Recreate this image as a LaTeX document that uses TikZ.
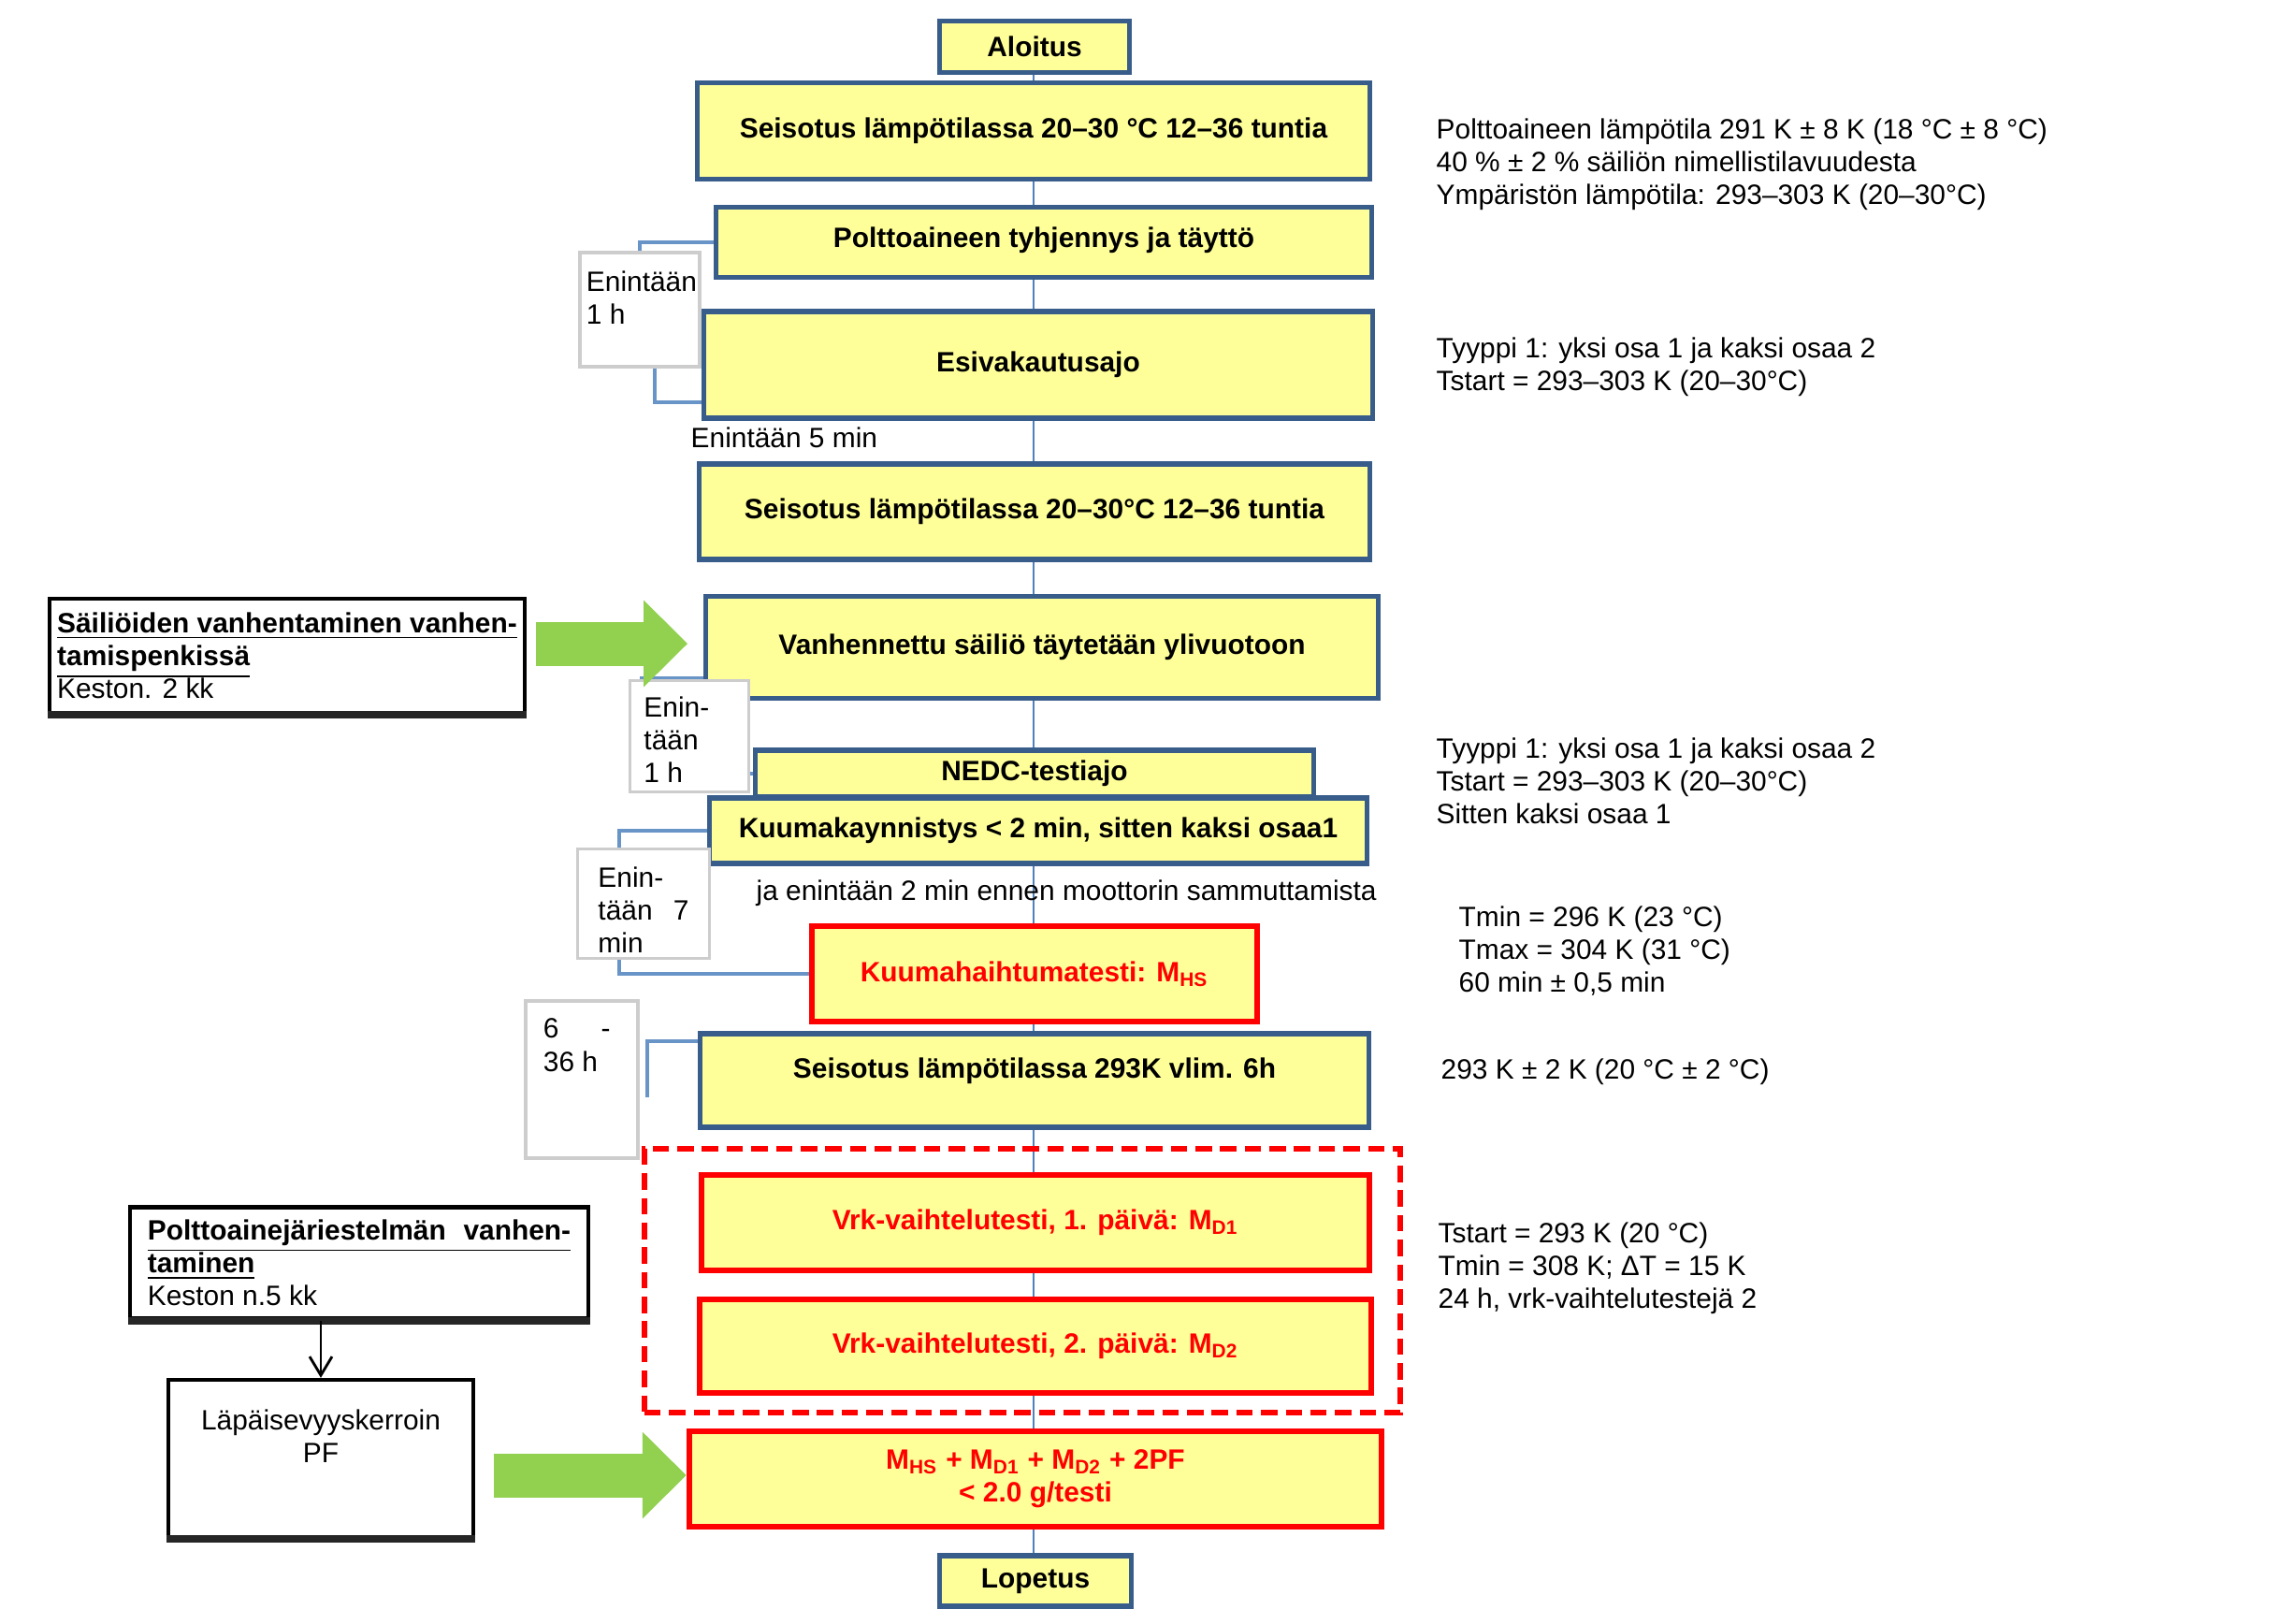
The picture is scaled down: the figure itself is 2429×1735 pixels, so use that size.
\documentclass[tikz,border=0pt]{standalone}
\usepackage{fontspec}
\setmainfont{Liberation Sans}
\usepackage{xcolor}
\usetikzlibrary{arrows.meta, positioning, backgrounds, calc}

\definecolor{boxyellow}{RGB}{255,255,153}
\definecolor{boxblue}{RGB}{56,93,138}
\definecolor{linkblue}{RGB}{79,129,189}
\definecolor{arrowgreen}{RGB}{146,208,80}
\definecolor{notegray}{RGB}{205,205,205}

\newcommand{\sidetext}[3]{\begin{minipage}[t][#2][t]{#1}\raggedright #3\end{minipage}}

\begin{document}
\begin{tikzpicture}[x=0.01cm, y=-0.01cm, every node/.style={font=\fontsize{8.5}{10}\selectfont}]
    \tikzset{
        block/.style={rectangle, draw=boxblue, line width=1.5pt, fill=boxyellow, inner sep=0pt, align=center, font=\fontsize{8.5}{10}\selectfont\bfseries},
        redblock/.style={block, draw=red, line width=1.7pt, text=red},
        sidebox/.style={rectangle, draw=notegray, line width=0.9pt, fill=white},
        source/.style={rectangle, draw=black, line width=1.2pt, fill=white, inner sep=0pt},
        note/.style={anchor=north west, align=left, inner sep=0pt},
        line/.style={draw=linkblue, line width=0.8pt},
        bracket/.style={draw=linkblue!85!white, line width=1.1pt},
        bigarrow/.style={draw=arrowgreen, line width=0.47cm, -{Triangle[width=0.9cm, length=0.47cm]}}
    }
    \useasboundingbox (0,0) rectangle (2429,1735);

    % main column
    \node (Aloitus) [block, minimum width=2.03cm, minimum height=0.55cm] at (1106,50) {Aloitus};
    \node (Seisotus1) [block, minimum width=7.18cm, minimum height=1.03cm] at (1105,140) {Seisotus lämpötilassa 20–30 °C 12–36 tuntia};
    \node (Tyhjennys) [block, minimum width=7.01cm, minimum height=0.75cm, text depth=0.1cm] at (1116,259) {Polttoaineen tyhjennys ja täyttö};
    \node (Esivakautus) [block, minimum width=7.15cm, minimum height=1.14cm] at (1110,390) {Esivakautusajo};
    \node (Seisotus2) [block, minimum width=7.17cm, minimum height=1.02cm] at (1106,547) {Seisotus lämpötilassa 20–30°C 12–36 tuntia};
    \node (Vanhennettu) [block, minimum width=7.18cm, minimum height=1.09cm] at (1114,692) {Vanhennettu säiliö täytetään ylivuotoon};
    \node (NEDC) [block, minimum width=5.97cm, minimum height=0.50cm] at (1106,827) {NEDC-testiajo};
    \node (Kuumakaynnistys) [block, minimum width=7.03cm, minimum height=0.70cm] at (1110,888) {Kuumakaynnistys < 2 min, sitten kaksi osaa1};
    \node (Kuumahaihtuma) [redblock, minimum width=4.76cm, minimum height=1.02cm] at (1106,1041) {Kuumahaihtumatesti: M\textsubscript{HS}};
    \node (Seisotus3) [block, minimum width=7.15cm, minimum height=1.00cm, text depth=0.27cm] at (1106,1155) {Seisotus lämpötilassa 293K vlim. 6h};
    \node (Vrk1) [redblock, minimum width=7.14cm, minimum height=1.02cm] at (1107,1307) {Vrk-vaihtelutesti, 1. päivä: M\textsubscript{D1}};
    \node (Vrk2) [redblock, minimum width=7.17cm, minimum height=1.00cm] at (1107,1439) {Vrk-vaihtelutesti, 2. päivä: M\textsubscript{D2}};
    \node (Summa) [redblock, minimum width=7.40cm, minimum height=1.02cm] at (1107,1581) {M\textsubscript{HS} + M\textsubscript{D1} + M\textsubscript{D2} + 2PF\\< 2.0 g/testi};
    \node (Lopetus) [block, minimum width=2.05cm, minimum height=0.54cm] at (1107,1690) {Lopetus};
    \node (Paivat) [draw=red, line width=1.6pt, dash pattern=on 5pt off 2.5pt, minimum width=8.08cm, minimum height=2.82cm] at (1093,1369) {};

    % time limits
    \node (Enint1) [sidebox, inner xsep=0.07cm, inner ysep=0.2cm] at (684,331) {\sidetext{1.14cm}{0.82cm}{Enintään\\1 h}};
    \node (Enint2) [sidebox, inner xsep=0.15cm, inner ysep=0.17cm] at (737,787) {\sidetext{0.97cm}{0.85cm}{Enin-\\tään\\1 h}};
    \node (Enint7) [sidebox, inner xsep=0.22cm, inner ysep=0.19cm] at (688,966) {\sidetext{0.97cm}{0.79cm}{Enin-\\tään\hfill 7\\min}};
    \node (Tunnit) [sidebox, inner xsep=0.19cm, inner ysep=0.19cm] at (622,1154) {\sidetext{0.82cm}{1.30cm}{6\hspace{0.45cm}-\\36 h}};
    \node (Viive5) [anchor=west, inner sep=0pt] at (738,468) {Enintään 5 min};
    \node (Viive2) [anchor=west, inner sep=0pt] at (808,955) {ja enintään 2 min ennen moottorin sammuttamista};

    % ageing inputs
    \node (Sailiot) [source, minimum width=5.08cm, minimum height=1.22cm, align=left] at (307,701) {\textbf{\underline{Säiliöiden vanhentaminen vanhen-}}\\\textbf{\underline{tamispenkissä}}\\Keston. 2 kk};
    \node (Jarjestelma) [source, minimum width=4.90cm, minimum height=1.19cm, align=left] at (384,1350) {\textbf{\underline{\makebox[4.52cm][s]{Polttoainejäriestelmän\hfill vanhen-}}}\\\textbf{\underline{taminen}}\\Keston n.5 kk};
    \node (PF) [source, inner xsep=0.13cm, inner ysep=0.32cm] at (343,1559) {\begin{minipage}[t][1.04cm][t]{3.0cm}\centering Läpäisevyyskerroin\\PF\end{minipage}};
    \foreach \n in {Sailiot, Jarjestelma, PF}
        \draw [line width=2.2pt, black!85] (\n.south west) -- (\n.south east);

    % conditions
    \node (Info1) [note] at (1535,126) {Polttoaineen lämpötila 291 K ± 8 K (18 °C ± 8 °C)\\40 \% ± 2 \% säiliön nimellistilavuudesta\\Ympäristön lämpötila: 293–303 K (20–30°C)};
    \node (Info2) [note] at (1535,360) {Tyyppi 1: yksi osa 1 ja kaksi osaa 2\\Tstart = 293–303 K (20–30°C)};
    \node (Info3) [note] at (1535,788) {Tyyppi 1: yksi osa 1 ja kaksi osaa 2\\Tstart = 293–303 K (20–30°C)\\Sitten kaksi osaa 1};
    \node (Info4) [note] at (1559,968) {Tmin = 296 K (23 °C)\\Tmax = 304 K (31 °C)\\60 min ± 0,5 min};
    \node (Info5) [note] at (1540,1131) {293 K ± 2 K (20 °C ± 2 °C)};
    \node (Info6) [note] at (1537,1306) {Tstart = 293 K (20 °C)\\Tmin = 308 K; ΔT = 15 K\\24 h, vrk-vaihtelutestejä 2};

    \begin{scope}[on background layer]
        \coordinate (Spine) at (1105,0);
        \foreach \a/\b in {Aloitus/Seisotus1, Seisotus1/Tyhjennys, Tyhjennys/Esivakautus, Esivakautus/Seisotus2, Seisotus2/Vanhennettu, Vanhennettu/NEDC, Kuumakaynnistys/Kuumahaihtuma, Kuumahaihtuma/Seisotus3, Seisotus3/Vrk1, Vrk1/Vrk2, Vrk2/Summa, Summa/Lopetus}
            \path [line] (Spine |- \a.south) -- (Spine |- \b.north);

        % brackets round the time limits
        \path [bracket] (Tyhjennys.west) -| (Enint1.north);
        \path [bracket] ([xshift=0.16cm]Enint1.south) |- ([yshift=-0.4cm]Esivakautus.west);
        \path [bracket] ([yshift=-0.33cm]Vanhennettu.west) -| ([xshift=-0.51cm]Enint2.center) |- (NEDC.west);
        \path [bracket] (Kuumakaynnistys.west) -| ([xshift=-0.26cm]Enint7.center) |- (Kuumahaihtuma.west);
        \path [bracket] ([yshift=0.42cm]Seisotus3.west) -| ([xshift=0.08cm, yshift=-0.19cm]Tunnit.east);
    \end{scope}

    % inputs
    \path [bigarrow] ($(Sailiot.east |- Vanhennettu.west)+(10,-4)$) -- ($(Vanhennettu.west)+(-17,-4)$);
    \path [bigarrow] ($(PF.east |- Summa.west)+(20,-4)$) -- ($(Summa.west)+(0,-4)$);
    \draw [line width=0.8pt, -{Straight Barb[length=0.2cm, width=0.24cm]}] (PF.north |- Jarjestelma.south) -- (PF.north);

\end{tikzpicture}
\end{document}
